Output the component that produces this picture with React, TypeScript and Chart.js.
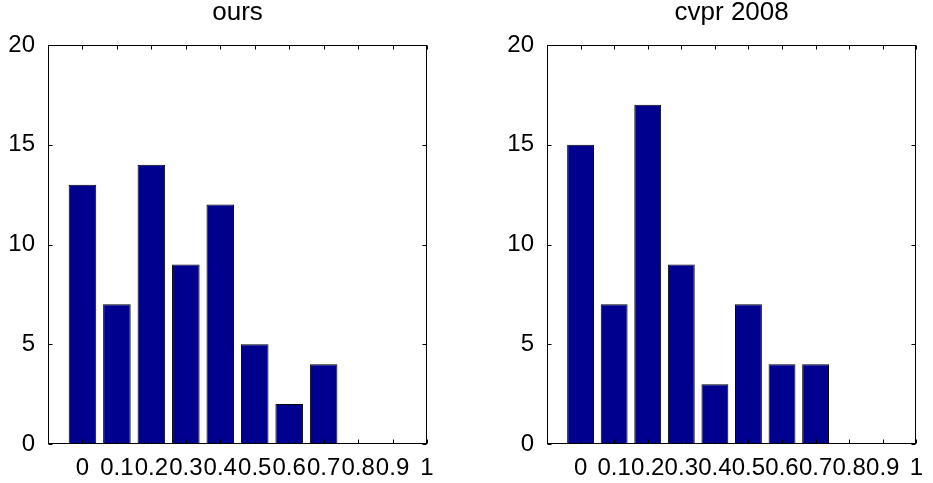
import React, { useEffect, useRef } from 'react';
import { Chart, registerables } from 'chart.js';

Chart.register(...registerables);

// ---- data ----
const binCenters = [0, 0.1, 0.2, 0.3, 0.4, 0.5, 0.6, 0.7, 0.8, 0.9, 1.0];
const xTickValues = [0, 0.1, 0.2, 0.3, 0.4, 0.5, 0.6, 0.7, 0.8, 0.9, 1.0];
const xTickLabels = ['0', '0.1', '0.2', '0.3', '0.4', '0.5', '0.6', '0.7', '0.8', '0.9', '1'];
const yTickValues = [0, 5, 10, 15, 20];
const oursCounts = [13, 7, 14, 9, 12, 5, 2, 4, 0, 0, 0];
const cvprCounts = [15, 7, 17, 9, 3, 7, 4, 4, 0, 0, 0];
const panelTitles = ['ours', 'cvpr 2008'];

const FONT = '"Liberation Sans", Arial, Helvetica, sans-serif';

const framePlugin = {
  id: 'matlabFrame',
  afterDraw(chart: any) {
    const { ctx, chartArea: a, scales } = chart;
    const L = 4;
    ctx.save();
    ctx.strokeStyle = '#000';
    ctx.lineWidth = 1;
    const left = Math.round(a.left) + 0.5;
    const right = Math.round(a.right) - 0.5;
    const top = Math.round(a.top) + 0.5;
    const bottom = Math.round(a.bottom) - 0.5;
    ctx.beginPath();
    scales.x.ticks.forEach((t: any) => {
      const px = Math.round(scales.x.getPixelForValue(t.value)) + 0.5;
      ctx.moveTo(px, top);
      ctx.lineTo(px, top + L);
      ctx.moveTo(px, bottom);
      ctx.lineTo(px, bottom - L);
    });
    scales.y.ticks.forEach((t: any) => {
      const py = Math.round(scales.y.getPixelForValue(t.value)) + 0.5;
      ctx.moveTo(left, py);
      ctx.lineTo(left + L, py);
      ctx.moveTo(right, py);
      ctx.lineTo(right - L, py);
    });
    ctx.stroke();
    ctx.strokeRect(left, top, right - left, bottom - top);
    ctx.restore();
  },
};

function Panel(props: { title: string; counts: number[]; yAxisWidth: number; padRight: number; width: number; left: number }) {
  const ref = useRef<HTMLCanvasElement | null>(null);
  useEffect(() => {
    if (!ref.current) return;
    const chart = new Chart(ref.current, {
      type: 'bar',
      data: {
        datasets: [
          {
            data: binCenters.map((x, i) => ({ x, y: props.counts[i] })),
            backgroundColor: '#00008F',
            borderColor: '#000000',
            borderWidth: 1,
            barPercentage: 0.8,
            categoryPercentage: 1.0,
          },
        ],
      },
      options: {
        responsive: false,
        animation: false,
        devicePixelRatio: 1,
        layout: { padding: { left: 0, right: props.padRight, top: 0, bottom: 0 } },
        plugins: {
          legend: { display: false },
          tooltip: { enabled: false },
          title: {
            display: true,
            text: props.title,
            color: '#000',
            fullSize: false,
            font: { family: FONT, size: 26, weight: 'normal', lineHeight: 1 },
            padding: { top: 0, bottom: 19 },
          },
        },
        scales: {
          x: {
            type: 'linear',
            min: -0.1,
            max: 1.0,
            offset: false,
            bounds: 'data',
            grid: { display: false, drawTicks: false, offset: false },
            border: { display: false },
            afterBuildTicks: (scale: any) => {
              scale.ticks = xTickValues.map((v) => ({ value: v }));
            },
            afterFit: (scale: any) => {
              scale.height = 39;
            },
            ticks: {
              autoSkip: false,
              maxRotation: 0,
              minRotation: 0,
              padding: 10,
              color: '#000',
              font: { family: FONT, size: 24 },
              callback: (_v: any, i: number) => xTickLabels[i],
            },
          },
          y: {
            type: 'linear',
            min: 0,
            max: 20,
            grid: { display: false, drawTicks: false },
            border: { display: false },
            afterBuildTicks: (scale: any) => {
              scale.ticks = yTickValues.map((v) => ({ value: v }));
            },
            afterFit: (scale: any) => {
              scale.width = props.yAxisWidth;
            },
            ticks: {
              padding: 13,
              color: '#000',
              font: { family: FONT, size: 24 },
              callback: (v: any) => String(v),
            },
          },
        },
      },
      plugins: [framePlugin],
    } as any);
    return () => chart.destroy();
  }, []);
  return (
    <canvas
      ref={ref}
      width={props.width}
      height={483}
      style={{ position: 'absolute', left: props.left, top: 0, width: props.width, height: 483 }}
    />
  );
}

export default function App() {
  return (
    <div style={{ position: 'absolute', left: 0, top: 0, width: 933, height: 483, background: '#fff' }}>
      <Panel title={panelTitles[0]} counts={oursCounts} yAxisWidth={48} padRight={39} width={466} left={0} />
      <Panel title={panelTitles[1]} counts={cvprCounts} yAxisWidth={81} padRight={7} width={467} left={466} />
    </div>
  );
}
